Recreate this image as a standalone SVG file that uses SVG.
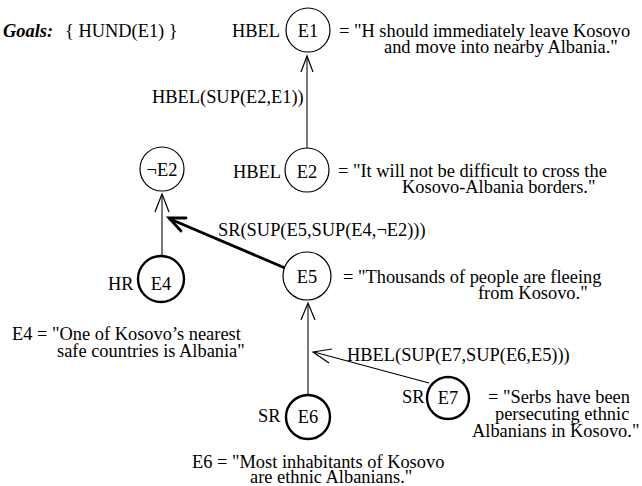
<svg xmlns="http://www.w3.org/2000/svg" width="642" height="486" viewBox="0 0 642 486">
<style>
text{font-family:'Liberation Serif','Times New Roman',serif;font-size:18.4px;fill:#000}
.c{text-anchor:middle}
</style>
<rect width="642" height="486" fill="#fff"/>
<g id="goals">
<text font-family="Liberation Serif" font-size="18.4" x="3" y="37" font-weight="bold" font-style="italic">Goals:</text>
<text font-family="Liberation Serif" font-size="18.4" x="65" y="37">{ HUND(E1) }</text>
</g>
<g id="connectors" fill="none">
<path d="M307 148V57" stroke="#7a7a7a" stroke-width="2"/>
<path d="M301 72L307 56L313 72" stroke="#000" stroke-width="1.2"/>
<text font-family="Liberation Serif" font-size="18.4" x="152" y="103">HBEL(SUP(E2,E1))</text>
<path d="M162 255V195" stroke="#7a7a7a" stroke-width="2"/>
<path d="M155 212L162 194L169 212" stroke="#000" stroke-width="1.2"/>
<path d="M285 268L170 219" stroke="#000" stroke-width="2.8" stroke-linecap="round"/>
<path d="M186 218L169 218L181 231" stroke="#000" stroke-width="2.8" stroke-linecap="round"/>
<text font-family="Liberation Serif" font-size="18.4" x="218" y="236">SR(SUP(E5,SUP(E4,¬E2)))</text>
<path d="M308 394V304" stroke="#7a7a7a" stroke-width="2"/>
<path d="M301 320L308 303L315 320" stroke="#000" stroke-width="1.2"/>
<path d="M429 383L314 352" stroke="#000" stroke-width="1.2"/>
<path d="M332 349L313 352L329 363" stroke="#000" stroke-width="1.2"/>
<text font-family="Liberation Serif" font-size="18.4" x="347" y="361">HBEL(SUP(E7,SUP(E6,E5)))</text>
</g>
<g id="E1">
<circle cx="308" cy="30" r="22" fill="#fff" stroke="#000" stroke-width="1.2"/>
<text font-family="Liberation Serif" font-size="18.4" class="c" x="308" y="37">E1</text>
<text font-family="Liberation Serif" font-size="18.4" x="232" y="37">HBEL</text>
<text font-family="Liberation Serif" font-size="18.4" x="339" y="37">= "H should immediately leave Kosovo</text>
<text font-family="Liberation Serif" font-size="18.4" x="384" y="53">and move into nearby Albania."</text>
</g>
<g id="E2">
<circle cx="307" cy="170" r="22" fill="#fff" stroke="#000" stroke-width="1.2"/>
<text font-family="Liberation Serif" font-size="18.4" class="c" x="307" y="178">E2</text>
<text font-family="Liberation Serif" font-size="18.4" x="233" y="178">HBEL</text>
<text font-family="Liberation Serif" font-size="18.4" x="338" y="177">= "It will not be difficult to cross the</text>
<text font-family="Liberation Serif" font-size="18.4" x="402" y="193">Kosovo-Albania borders."</text>
</g>
<g id="notE2">
<circle cx="162" cy="169" r="22" fill="#fff" stroke="#000" stroke-width="1.2"/>
<text font-family="Liberation Serif" font-size="18.4" class="c" x="162" y="176">¬E2</text>
</g>
<g id="E5">
<circle cx="307" cy="276" r="24" fill="#fff" stroke="#000" stroke-width="1.2"/>
<text font-family="Liberation Serif" font-size="18.4" class="c" x="307" y="283">E5</text>
<text font-family="Liberation Serif" font-size="18.4" x="343" y="283">= "Thousands of people are fleeing</text>
<text font-family="Liberation Serif" font-size="18.4" x="478" y="299">from Kosovo."</text>
</g>
<g id="E4">
<circle cx="161" cy="279" r="23" fill="#fff" stroke="#000" stroke-width="2.4"/>
<text font-family="Liberation Serif" font-size="18.4" class="c" x="161" y="290">E4</text>
<text font-family="Liberation Serif" font-size="18.4" x="108" y="290">HR</text>
<text font-family="Liberation Serif" font-size="18.4" x="12" y="340">E4 = "One of Kosovo’s nearest</text>
<text font-family="Liberation Serif" font-size="18.4" x="57" y="357">safe countries is Albania"</text>
</g>
<g id="E7">
<circle cx="448" cy="398" r="21" fill="#fff" stroke="#000" stroke-width="2.4"/>
<text font-family="Liberation Serif" font-size="18.4" class="c" x="448" y="404">E7</text>
<text font-family="Liberation Serif" font-size="18.4" x="402" y="403">SR</text>
<text font-family="Liberation Serif" font-size="18.4" x="488" y="403">= "Serbs have been</text>
<text font-family="Liberation Serif" font-size="18.4" x="495" y="420">persecuting ethnic</text>
<text font-family="Liberation Serif" font-size="18.4" x="472" y="437">Albanians in Kosovo."</text>
</g>
<g id="E6">
<circle cx="308" cy="417" r="22" fill="#fff" stroke="#000" stroke-width="2.4"/>
<text font-family="Liberation Serif" font-size="18.4" class="c" x="308" y="423">E6</text>
<text font-family="Liberation Serif" font-size="18.4" x="258" y="422">SR</text>
<text font-family="Liberation Serif" font-size="18.4" x="192" y="468">E6 = "Most inhabitants of Kosovo</text>
<text font-family="Liberation Serif" font-size="18.4" x="250" y="483">are ethnic Albanians."</text>
</g>
</svg>
